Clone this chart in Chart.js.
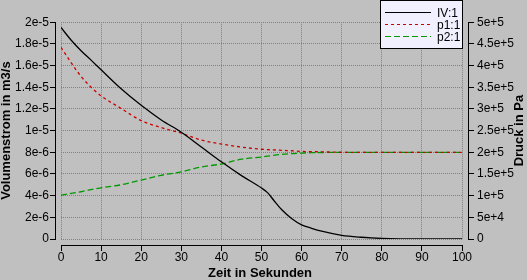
<!DOCTYPE html>
<html>
<head>
<meta charset="utf-8">
<script src="https://cdn.jsdelivr.net/npm/chart.js@4"></script>
<style>
  body { margin: 0; background: #c0c0c0; }
  canvas { display: block; }
</style>
</head>
<body>
<canvas id="chart" width="527" height="280"></canvas>
<script>
// time in seconds
const zeit = [0, 2.5, 5, 7.5, 10, 15, 20, 25, 30, 35, 40, 45, 50, 51.5, 53, 55, 57.5, 60, 62.5, 65, 70, 75, 80, 85, 90, 95, 100];
// IV:1 volume flow in m3/s (left axis)
const volumenstrom = [1.951e-5, 1.836e-5, 1.737e-5, 1.650e-5, 1.561e-5, 1.386e-5, 1.233e-5, 1.098e-5, 0.985e-5, 0.849e-5,
  0.712e-5, 0.585e-5, 0.470e-5, 0.428e-5, 0.36e-5, 0.272e-5, 0.19e-5, 0.131e-5, 0.099e-5, 0.072e-5,
  0.034e-5, 0.016e-5, 0.005e-5, 0.001e-5, 0, 0, 0];
// p1:1 and p2:1 pressure in Pa (right axis)
const druckP1 = [4.42e5, 4.07e5, 3.75e5, 3.50e5, 3.30e5, 3.01e5, 2.73e5, 2.57e5, 2.44e5, 2.28e5,
  2.19e5, 2.12e5, 2.07e5, 2.06e5, 2.055e5, 2.045e5, 2.035e5, 2.02e5, 2.015e5, 2.01e5,
  2.0e5, 2.0e5, 2.0e5, 2.0e5, 2.0e5, 2.0e5, 2.0e5];
const druckP2 = [1.01e5, 1.05e5, 1.09e5, 1.14e5, 1.18e5, 1.25e5, 1.36e5, 1.47e5, 1.55e5, 1.66e5,
  1.73e5, 1.84e5, 1.89e5, 1.91e5, 1.93e5, 1.95e5, 1.97e5, 1.98e5, 1.99e5, 1.995e5,
  2.0e5, 2.0e5, 2.0e5, 2.0e5, 2.0e5, 2.0e5, 2.0e5];

const seriesNames = ['IV:1', 'p1:1', 'p2:1'];
const xTitle = 'Zeit in Sekunden';
const yTitle = 'Volumenstrom in m3/s';
const y2Title = 'Druck in Pa';

const tickFont = "'Liberation Sans Narrow', 'Liberation Sans', Arial, sans-serif";
const titleFont = "'Liberation Sans', Arial, sans-serif";

function sci(v) {
  if (v === 0) return '0';
  return parseFloat(v.toPrecision(3)).toExponential();
}

function points(ys) {
  return zeit.map((t, i) => ({ x: t, y: ys[i] }));
}

const crisp = p => Math.round(p - 0.5) + 0.5;

// axis lines, tick marks, titles and legend box
const decorPlugin = {
  id: 'decor',
  afterDraw(chart) {
    const ctx = chart.ctx;
    const { x, y, y2 } = chart.scales;
    ctx.save();
    ctx.strokeStyle = '#000';
    ctx.lineWidth = 1;
    ctx.setLineDash([]);
    ctx.beginPath();
    // left axis
    ctx.moveTo(55.5, crisp(y.getPixelForValue(y.max)));
    ctx.lineTo(55.5, crisp(y.getPixelForValue(0)) + 0.5);
    y.ticks.forEach(t => {
      const py = crisp(y.getPixelForValue(t.value));
      ctx.moveTo(50, py); ctx.lineTo(56, py);
    });
    // bottom axis
    ctx.moveTo(crisp(x.getPixelForValue(0)), 245.5);
    ctx.lineTo(crisp(x.getPixelForValue(100)) + 0.5, 245.5);
    x.ticks.forEach(t => {
      const px = crisp(x.getPixelForValue(t.value));
      ctx.moveTo(px, 245); ctx.lineTo(px, 251);
    });
    // right axis
    ctx.moveTo(468.5, crisp(y2.getPixelForValue(y2.max)));
    ctx.lineTo(468.5, crisp(y2.getPixelForValue(0)) + 0.5);
    y2.ticks.forEach(t => {
      const py = crisp(y2.getPixelForValue(t.value));
      ctx.moveTo(468, py); ctx.lineTo(474, py);
    });
    ctx.stroke();

    // titles
    ctx.fillStyle = '#000';
    ctx.font = 'bold 13px ' + titleFont;
    ctx.textAlign = 'center';
    ctx.textBaseline = 'alphabetic';
    ctx.fillText(xTitle, 260, 277);
    const midY = (chart.chartArea.top + chart.chartArea.bottom) / 2;
    ctx.save();
    ctx.translate(10, midY);
    ctx.rotate(-Math.PI / 2);
    ctx.fillText(yTitle, 0, 0);
    ctx.restore();
    ctx.save();
    ctx.translate(523, midY);
    ctx.rotate(-Math.PI / 2);
    ctx.fillText(y2Title, 0, 0);
    ctx.restore();

    // legend
    ctx.fillStyle = '#f0f0ff';
    ctx.fillRect(381, 1, 81, 47);
    ctx.strokeRect(380.5, 0.5, 82, 48);
    ctx.font = '12px ' + titleFont;
    ctx.textAlign = 'left';
    ctx.textBaseline = 'middle';
    chart.data.datasets.forEach((ds, i) => {
      const ly = 12.5 + i * 12;
      ctx.strokeStyle = ds.borderColor;
      ctx.setLineDash(ds.borderDash || []);
      ctx.beginPath();
      ctx.moveTo(385, ly); ctx.lineTo(431, ly);
      ctx.stroke();
      ctx.fillStyle = '#000';
      ctx.fillText(ds.label, 437, ly + 1);
    });
    ctx.restore();
  }
};

const gridColor = '#808080';

new Chart(document.getElementById('chart'), {
  type: 'line',
  data: {
    datasets: [
      { label: seriesNames[0], data: points(volumenstrom), yAxisID: 'y', borderColor: '#000000', borderWidth: 1.3, cubicInterpolationMode: 'monotone' },
      { label: seriesNames[1], data: points(druckP1), yAxisID: 'y2', borderColor: '#cc0000', borderDash: [3, 3], borderWidth: 1.3, cubicInterpolationMode: 'monotone' },
      { label: seriesNames[2], data: points(druckP2), yAxisID: 'y2', borderColor: '#009900', borderDash: [6, 3], borderWidth: 1.3, cubicInterpolationMode: 'monotone' }
    ]
  },
  options: {
    responsive: false,
    animation: false,
    devicePixelRatio: 1,
    elements: { point: { radius: 0 } },
    layout: { padding: { top: 4, left: 0, right: 0, bottom: 0 } },
    plugins: { legend: { display: false }, tooltip: { enabled: false } },
    scales: {
      x: {
        type: 'linear', min: 0, max: 100,
        ticks: { stepSize: 10, color: '#000', padding: 11, font: { family: tickFont, size: 12 }, maxRotation: 0 },
        grid: { color: gridColor, drawTicks: false },
        border: { display: false, dash: [1, 1] },
        afterFit: s => { s.height = 41; }
      },
      y: {
        position: 'left', min: 0, max: 2e-5,
        ticks: { stepSize: 2e-6, color: '#000', padding: 12, autoSkip: false, font: { family: tickFont, size: 12 }, callback: v => sci(v) },
        grid: { color: gridColor, drawTicks: false },
        border: { display: false, dash: [1, 1] },
        afterFit: s => { s.width = 61; }
      },
      y2: {
        position: 'right', min: 0, max: 5e5,
        ticks: { stepSize: 5e4, color: '#000', padding: 15, autoSkip: false, font: { family: tickFont, size: 12 }, callback: v => sci(v) },
        grid: { display: false, drawTicks: false },
        border: { display: false },
        afterFit: s => { s.width = 65; }
      }
    }
  },
  plugins: [decorPlugin]
});
</script>
</body>
</html>
